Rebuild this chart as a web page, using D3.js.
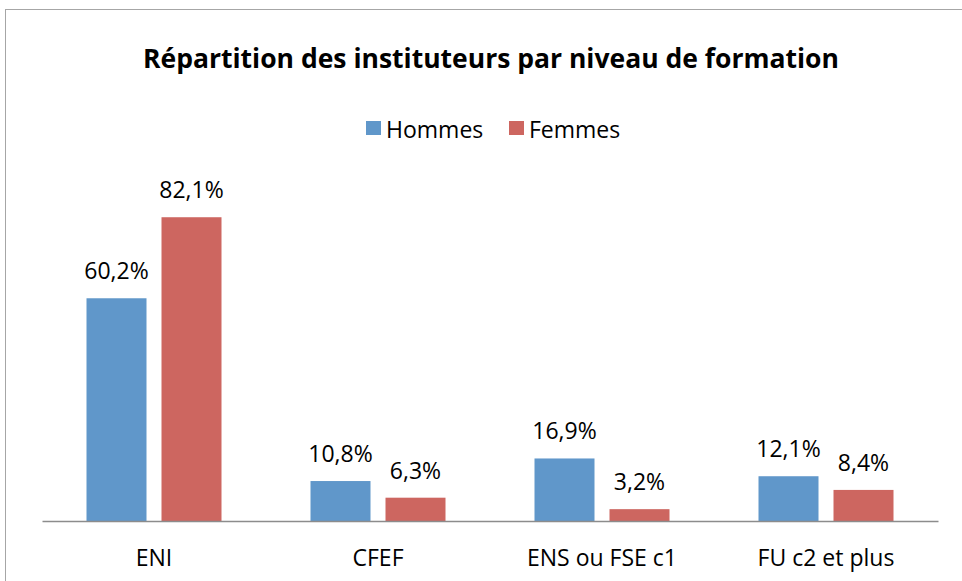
<!DOCTYPE html>
<html>
<head>
<meta charset="utf-8">
<script src="https://cdn.jsdelivr.net/npm/d3@7"></script>
<style>
  html, body { margin: 0; padding: 0; background: #fff; }
  svg { display: block; font-family: "Open Sans", sans-serif; }
</style>
</head>
<body>
<div id="wrapper"></div>
<script>
const categories = ["ENI", "CFEF", "ENS ou FSE c1", "FU c2 et plus"]
const seriesNames = ["Hommes", "Femmes"]
const hommes = [60.2, 10.8, 16.9, 12.1]
const femmes = [82.1, 6.3, 3.2, 8.4]
const titleText = "Répartition des instituteurs par niveau de formation"

function drawChart() {
  const dimensions = {
    width: 962,
    height: 581,
    margin: { top: 151, right: 24, bottom: 60, left: 42 },
  }
  dimensions.boundedWidth = dimensions.width
    - dimensions.margin.left - dimensions.margin.right
  dimensions.boundedHeight = dimensions.height
    - dimensions.margin.top - dimensions.margin.bottom

  const fmt = v => d3.format(".1f")(v).replace(".", ",") + "%"

  const wrapper = d3.select("#wrapper")
    .append("svg")
    .attr("width", dimensions.width)
    .attr("height", dimensions.height)

  // chart frame
  wrapper.append("rect")
    .attr("x", 5.5)
    .attr("y", 9.5)
    .attr("width", 1000)
    .attr("height", 700)
    .attr("fill", "none")
    .attr("stroke", "#a6a6a6")
    .attr("stroke-width", 1)

  wrapper.append("text")
    .attr("x", 491)
    .attr("y", 68)
    .attr("text-anchor", "middle")
    .style("font-size", "26.5px")
    .style("font-weight", "bold")
    .attr("fill", "#000")
    .text(titleText)

  const bounds = wrapper.append("g")
    .attr("transform", `translate(${dimensions.margin.left},${dimensions.margin.top})`)

  const xScale = d3.scaleBand()
    .domain(categories)
    .range([0, dimensions.boundedWidth])

  const barWidth = 60
  const innerGap = 15
  const xSub = d3.scaleOrdinal()
    .domain(seriesNames)
    .range([
      xScale.bandwidth() / 2 - innerGap / 2 - barWidth,
      xScale.bandwidth() / 2 + innerGap / 2,
    ])

  const yScale = d3.scaleLinear()
    .domain([0, 100])
    .range([dimensions.boundedHeight, 0])

  const colorScale = d3.scaleOrdinal()
    .domain(seriesNames)
    .range(["#6097ca", "#cd6660"])

  const rows = categories.flatMap((c, i) => [
    { cat: c, serie: "Hommes", value: hommes[i] },
    { cat: c, serie: "Femmes", value: femmes[i] },
  ])

  bounds.selectAll("rect.bar")
    .data(rows)
    .join("rect")
    .attr("class", "bar")
    .attr("x", d => xScale(d.cat) + xSub(d.serie))
    .attr("y", d => yScale(d.value))
    .attr("width", barWidth)
    .attr("height", d => dimensions.boundedHeight - yScale(d.value))
    .attr("fill", d => colorScale(d.serie))

  bounds.selectAll("text.val")
    .data(rows)
    .join("text")
    .attr("class", "val")
    .attr("x", d => xScale(d.cat) + xSub(d.serie) + barWidth / 2)
    .attr("y", d => yScale(d.value) - 19)
    .attr("text-anchor", "middle")
    .style("font-size", "23px")
    .attr("fill", "#000")
    .text(d => fmt(d.value))

  // x axis
  const xAxisGenerator = d3.axisBottom()
    .scale(xScale)
    .tickSize(0)
    .tickPadding(29)

  const xAxis = bounds.append("g")
    .attr("transform", `translate(0,${dimensions.boundedHeight})`)
    .call(xAxisGenerator)

  xAxis.select(".domain")
    .attr("stroke", "#8c8c8c")
    .attr("stroke-width", 1.5)
  xAxis.selectAll(".tick text")
    .style("font-size", "23px")
    .style("font-family", "Open Sans, sans-serif")
    .attr("fill", "#000")

  // legend
  const legendItems = [
    { name: "Hommes", x: 366 },
    { name: "Femmes", x: 509 },
  ]
  const legend = wrapper.append("g")
  legend.selectAll("rect")
    .data(legendItems)
    .join("rect")
    .attr("x", d => d.x)
    .attr("y", 121)
    .attr("width", 15)
    .attr("height", 14)
    .attr("fill", d => colorScale(d.name))
  legend.selectAll("text")
    .data(legendItems)
    .join("text")
    .attr("x", d => d.x + 20)
    .attr("y", 138)
    .style("font-size", "23px")
    .attr("fill", "#000")
    .text(d => d.name)
}
drawChart()
</script>
</body>
</html>
